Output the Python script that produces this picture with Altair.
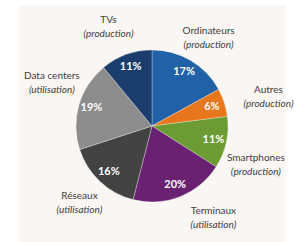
import math
import altair as alt
import pandas as pd

categories = ["Ordinateurs", "Autres", "Smartphones", "Terminaux", "Réseaux", "Data centers", "TVs"]
subtitles = ["(production)", "(production)", "(production)", "(utilisation)", "(utilisation)", "(utilisation)", "(production)"]
values = [17, 6, 11, 20, 16, 19, 11]
colors = ["#2061a8", "#e8761c", "#6c9b33", "#6a2171", "#434343", "#8d8d8d", "#1b3d6d"]

# layout tweaks for outside labels (angle nudge in degrees, radius in px)
label_nudge = [2, 4, 8, -12, 0, 7, -4]
label_radius = [105, 120, 111, 111, 106, 109, 108]

df = pd.DataFrame({"cat": categories, "sub": subtitles, "value": values,
                   "order": list(range(len(values)))})
df["pct"] = df["value"].astype(str) + "%"
cum = df["value"].cumsum()
mid = cum - df["value"] / 2
df["mid_rad"] = mid / 100 * 2 * math.pi
df["lab_rad"] = (mid / 100 * 360 + pd.Series(label_nudge)) * math.pi / 180
df["lab_r"] = label_radius

color = alt.Color("cat:N", scale=alt.Scale(domain=categories, range=colors), legend=None)

bg = alt.Chart(pd.DataFrame({"a": [0]})).mark_rect(color="#f9f6f3").encode(
    x=alt.value(15), x2=alt.value(282), y=alt.value(-5), y2=alt.value(240)
)

pie = alt.Chart(df).mark_arc(radius=76, stroke="#ffffff", strokeWidth=0.3).encode(
    theta=alt.Theta("value:Q", stack=True, scale=alt.Scale(domain=[0, 100])),
    color=color,
    order=alt.Order("order:Q"),
)

pct = alt.Chart(df).mark_text(radius=63, font="Lato", fontSize=11, fontWeight="bold",
                              color="white").encode(
    theta=alt.Theta("mid_rad:Q", scale=None),
    text="pct:N",
)

name = alt.Chart(df).mark_text(font="Lato", fontSize=10, color="#404040", dy=-7).encode(
    theta=alt.Theta("lab_rad:Q", scale=None),
    radius=alt.Radius("lab_r:Q", scale=None),
    text="cat:N",
)

sub = alt.Chart(df).mark_text(font="Lato", fontSize=10, fontStyle="italic",
                              color="#404040", dy=7).encode(
    theta=alt.Theta("lab_rad:Q", scale=None),
    radius=alt.Radius("lab_r:Q", scale=None),
    text="sub:N",
)

chart = alt.layer(bg, pie, pct, name, sub).properties(
    width=296, height=232,
    padding={"left": 4, "top": 10, "right": 0, "bottom": 0},
    autosize=alt.AutoSizeParams(type="none"),
    background="white",
).configure_view(stroke=None)

chart.save("out.html", embed_options={"renderer": "svg", "actions": False})
